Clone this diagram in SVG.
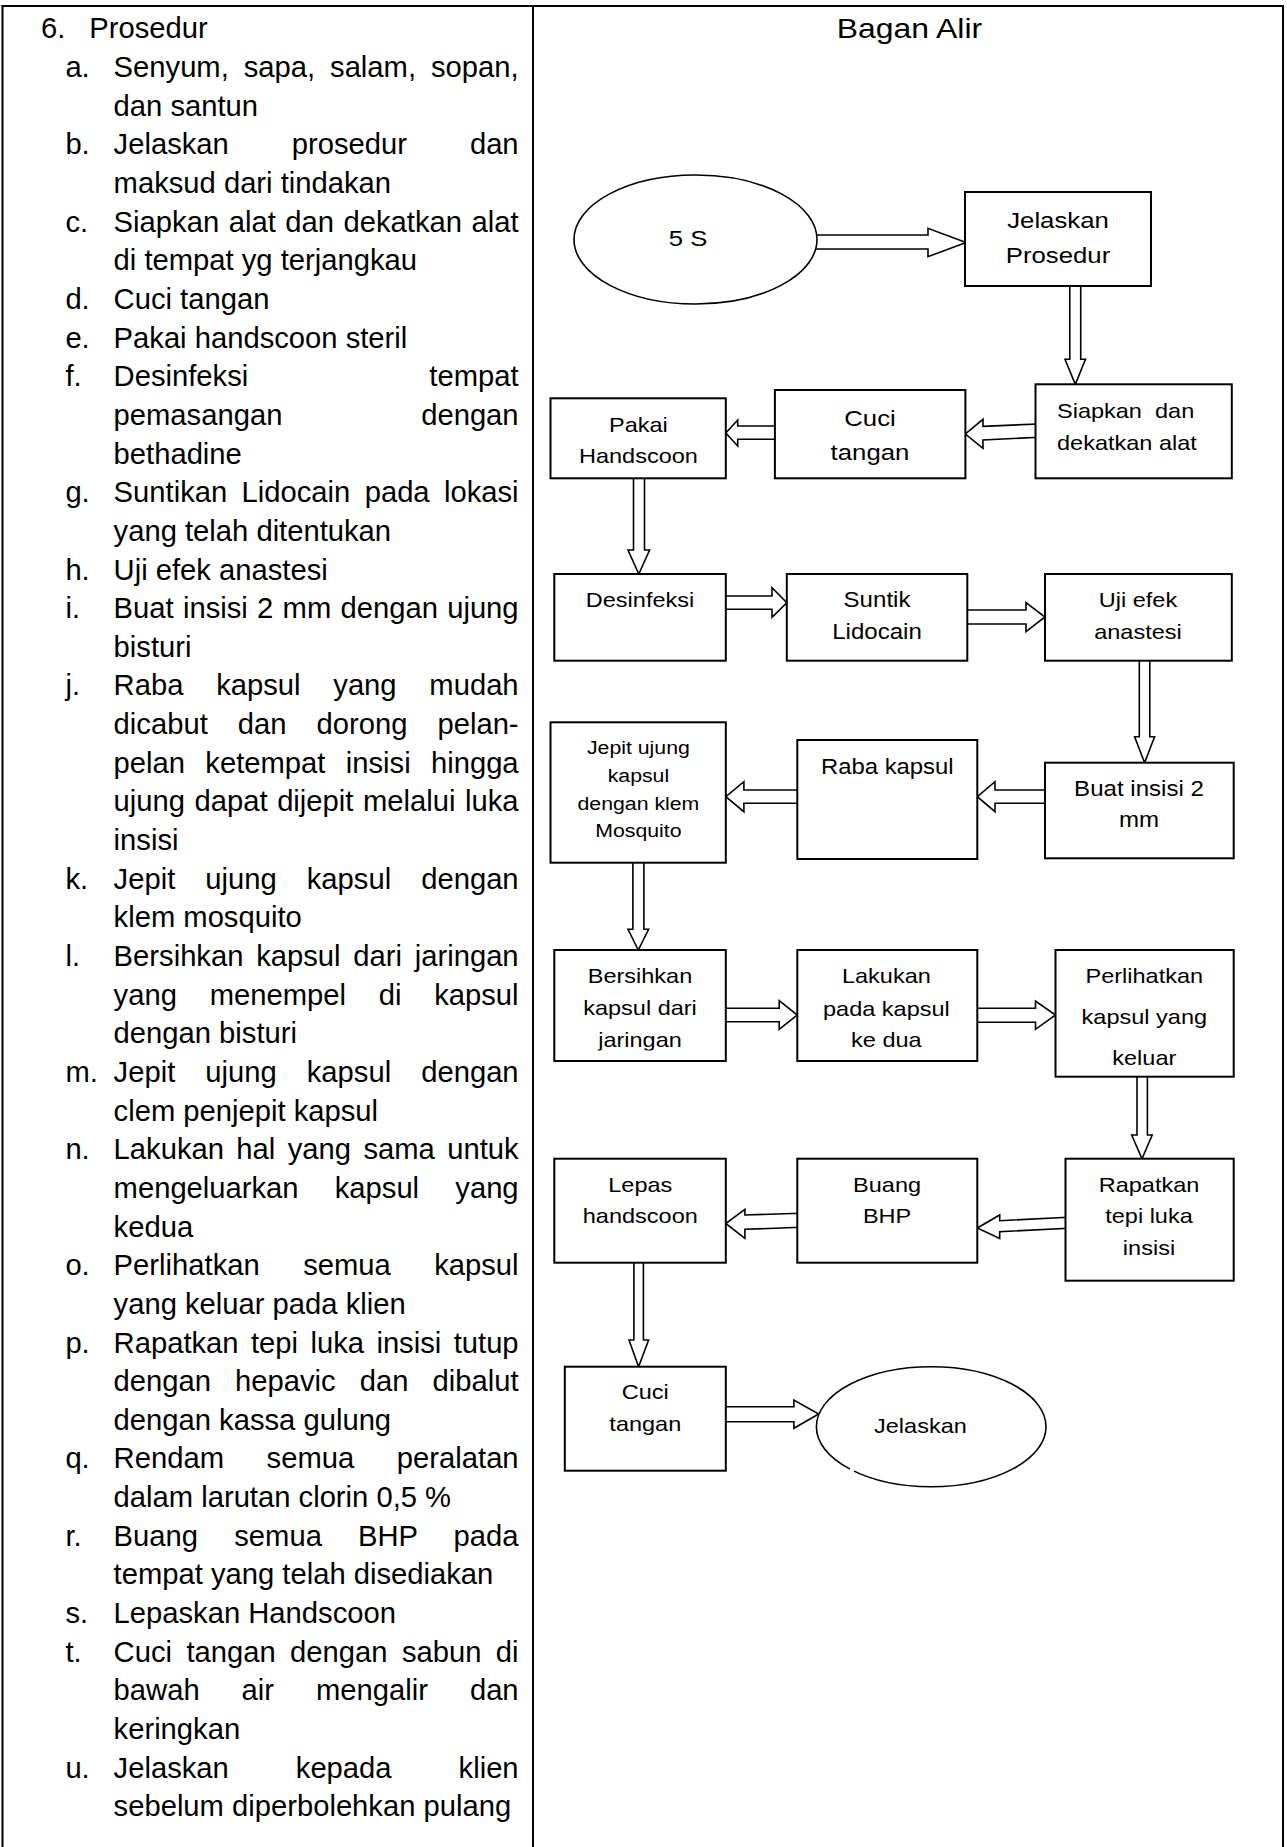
<svg xmlns="http://www.w3.org/2000/svg" width="1287" height="1847" viewBox="0 0 1287 1847">
<style>
.L{font-family:"Liberation Sans",Arial,sans-serif;font-size:29.2px;fill:#000}
.R{font-family:"Liberation Sans",Arial,sans-serif;text-anchor:middle;fill:#000}
.box{fill:#fff;stroke:#000;stroke-width:2}
.ell{fill:#fff;stroke:#000;stroke-width:1.6}
.arr{fill:#fff;stroke:#000;stroke-width:1.6;stroke-linejoin:miter}
.tbl{stroke:#000;stroke-width:2;fill:none}
</style>
<defs>
<clipPath id="clipB"><rect x="554" y="950" width="172" height="100.5"/></clipPath>
</defs>
<rect width="1287" height="1847" fill="#fff"/>
<g id="table">
<line class="tbl" x1="1.5" y1="6" x2="1284" y2="6"/>
<line class="tbl" x1="2.5" y1="5" x2="2.5" y2="1847"/>
<line class="tbl" x1="533" y1="5" x2="533" y2="1847"/>
<line class="tbl" x1="1283" y1="5" x2="1283" y2="1847"/>
</g>
<g id="left-text" class="L">
<text x="41" y="38.4">6.</text><text x="89.3" y="38.4">Prosedur</text>
<text x="65.4" y="77">a.</text><text x="113.6" y="77" word-spacing="6.8" textLength="405" lengthAdjust="spacing">Senyum, sapa, salam, sopan,</text>
<text x="113.6" y="115.7">dan santun</text>
<text x="65.4" y="154.3">b.</text><text x="113.6" y="154.3" word-spacing="54.8" textLength="405" lengthAdjust="spacing">Jelaskan prosedur dan</text>
<text x="113.6" y="193">maksud dari tindakan</text>
<text x="65.4" y="231.6">c.</text><text x="113.6" y="231.6" word-spacing="1.4" textLength="405" lengthAdjust="spacing">Siapkan alat dan dekatkan alat</text>
<text x="113.6" y="270.3">di tempat yg terjangkau</text>
<text x="65.4" y="308.9">d.</text><text x="113.6" y="308.9">Cuci tangan</text>
<text x="65.4" y="347.6">e.</text><text x="113.6" y="347.6">Pakai handscoon steril</text>
<text x="65.4" y="386.2">f.</text><text x="113.6" y="386.2">Desinfeksi</text><text x="518.6" y="386.2" text-anchor="end">tempat</text>
<text x="113.6" y="424.9">pemasangan</text><text x="518.6" y="424.9" text-anchor="end">dengan</text>
<text x="113.6" y="463.5">bethadine</text>
<text x="65.4" y="502.2">g.</text><text x="113.6" y="502.2" word-spacing="6.2" textLength="405" lengthAdjust="spacing">Suntikan Lidocain pada lokasi</text>
<text x="113.6" y="540.8">yang telah ditentukan</text>
<text x="65.4" y="579.5">h.</text><text x="113.6" y="579.5">Uji efek anastesi</text>
<text x="65.4" y="618.1">i.</text><text x="113.6" y="618.1" word-spacing="1.1" textLength="405" lengthAdjust="spacing">Buat insisi 2 mm dengan ujung</text>
<text x="113.6" y="656.8">bisturi</text>
<text x="65.4" y="695.4">j.</text><text x="113.6" y="695.4" word-spacing="24.6" textLength="405" lengthAdjust="spacing">Raba kapsul yang mudah</text>
<text x="113.6" y="734.1" word-spacing="21.9" textLength="405" lengthAdjust="spacing">dicabut dan dorong pelan-</text>
<text x="113.6" y="772.7" word-spacing="12.2" textLength="405" lengthAdjust="spacing">pelan ketempat insisi hingga</text>
<text x="113.6" y="811.4" word-spacing="1.4" textLength="405" lengthAdjust="spacing">ujung dapat dijepit melalui luka</text>
<text x="113.6" y="850">insisi</text>
<text x="65.4" y="888.7">k.</text><text x="113.6" y="888.7" word-spacing="21.9" textLength="405" lengthAdjust="spacing">Jepit ujung kapsul dengan</text>
<text x="113.6" y="927.3">klem mosquito</text>
<text x="65.4" y="966">l.</text><text x="113.6" y="966" word-spacing="4.6" textLength="405" lengthAdjust="spacing">Bersihkan kapsul dari jaringan</text>
<text x="113.6" y="1004.6" word-spacing="24.6" textLength="405" lengthAdjust="spacing">yang menempel di kapsul</text>
<text x="113.6" y="1043.3">dengan bisturi</text>
<text x="65.4" y="1081.9">m.</text><text x="113.6" y="1081.9" word-spacing="21.9" textLength="405" lengthAdjust="spacing">Jepit ujung kapsul dengan</text>
<text x="113.6" y="1120.6">clem penjepit kapsul</text>
<text x="65.4" y="1159.2">n.</text><text x="113.6" y="1159.2" word-spacing="4.3" textLength="405" lengthAdjust="spacing">Lakukan hal yang sama untuk</text>
<text x="113.6" y="1197.9" word-spacing="28.1" textLength="405" lengthAdjust="spacing">mengeluarkan kapsul yang</text>
<text x="113.6" y="1236.5">kedua</text>
<text x="65.4" y="1275.2">o.</text><text x="113.6" y="1275.2" word-spacing="35.3" textLength="405" lengthAdjust="spacing">Perlihatkan semua kapsul</text>
<text x="113.6" y="1313.8">yang keluar pada klien</text>
<text x="65.4" y="1352.5">p.</text><text x="113.6" y="1352.5" word-spacing="4.3" textLength="405" lengthAdjust="spacing">Rapatkan tepi luka insisi tutup</text>
<text x="113.6" y="1391.1" word-spacing="16" textLength="405" lengthAdjust="spacing">dengan hepavic dan dibalut</text>
<text x="113.6" y="1429.8">dengan kassa gulung</text>
<text x="65.4" y="1468.4">q.</text><text x="113.6" y="1468.4" word-spacing="34.5" textLength="405" lengthAdjust="spacing">Rendam semua peralatan</text>
<text x="113.6" y="1507.1">dalam larutan clorin 0,5 %</text>
<text x="65.4" y="1545.7">r.</text><text x="113.6" y="1545.7" word-spacing="27.9" textLength="405" lengthAdjust="spacing">Buang semua BHP pada</text>
<text x="113.6" y="1584.4">tempat yang telah disediakan</text>
<text x="65.4" y="1623">s.</text><text x="113.6" y="1623">Lepaskan Handscoon</text>
<text x="65.4" y="1661.7">t.</text><text x="113.6" y="1661.7" word-spacing="6.3" textLength="405" lengthAdjust="spacing">Cuci tangan dengan sabun di</text>
<text x="113.6" y="1700.3" word-spacing="33.8" textLength="405" lengthAdjust="spacing">bawah air mengalir dan</text>
<text x="113.6" y="1739">keringkan</text>
<text x="65.4" y="1777.6">u.</text><text x="113.6" y="1777.6" word-spacing="58.9" textLength="405" lengthAdjust="spacing">Jelaskan kepada klien</text>
<text x="113.6" y="1816.3">sebelum diperbolehkan pulang</text>
</g>
<text class="R" font-size="28.5" transform="translate(909.4,37.7) scale(1.12,1)">Bagan Alir</text>
<g id="connectors">
<polygon class="arr" points="812,235 928,235 928,228.3 966,242.5 928,256.7 928,249 812,249"/>
<polygon class="arr" points="1069.8,284 1069.8,359.3 1065,359.3 1075.3,384.3 1085.5,359.3 1080.7,359.3 1080.7,284"/>
<polygon class="arr" points="1038,424 983,426.3 983,419.3 965.4,434 983,448.3 983,440 1038,437.3"/>
<polygon class="arr" points="777,426 737.7,426 737.7,420 725.8,433 737.7,446 737.7,439.3 777,439.3"/>
<polygon class="arr" points="633.5,476 633.5,550 628,550 638.8,574 649.6,550 644.5,550 644.5,476"/>
<polygon class="arr" points="723,596 772,596 772,587.7 786.8,602.7 772,617.3 772,609.3 723,609.3"/>
<polygon class="arr" points="965,610 1026,610 1026,602.7 1045,617 1026,631.7 1026,624 965,624"/>
<polygon class="arr" points="1139.3,658 1139.3,736.7 1134.6,736.7 1144.6,762.7 1154.6,736.7 1149.8,736.7 1149.8,658"/>
<polygon class="arr" points="1048,790 995,790 995,781.7 977.3,796.7 995,811.7 995,803.3 1048,803.3"/>
<polygon class="arr" points="800,790 743.9,790 743.9,781.7 725.8,796.7 743.9,811.7 743.9,803.3 800,803.3"/>
<polygon class="arr" points="632.9,860 632.9,929.3 628,929.3 638.3,950 648.6,929.3 643.9,929.3 643.9,860"/>
<polygon class="arr" points="723,1008.3 779.2,1008.3 779.2,1000.7 797.3,1015 779.2,1029.3 779.2,1021.7 723,1021.7"/>
<polygon class="arr" points="975,1008.3 1035.5,1008.3 1035.5,1001 1055.5,1015 1035.5,1029.3 1035.5,1022.3 975,1022.3"/>
<polygon class="arr" points="1137,1074 1137,1135 1131.7,1135 1142,1158.7 1152.2,1135 1147.4,1135 1147.4,1074"/>
<polygon class="arr" points="1068,1217.3 999.7,1220.7 999.7,1215 977.3,1228 999.7,1238.5 999.7,1231.7 1068,1228.3"/>
<polygon class="arr" points="800,1213.3 744.9,1215 744.9,1209.3 725.8,1223.5 744.9,1238.3 744.9,1229.3 800,1227.3"/>
<polygon class="arr" points="633.9,1260 633.9,1340 629,1340 638.6,1366.7 648.6,1340 643.4,1340 643.4,1260"/>
<polygon class="arr" points="723,1406.7 793.9,1406.7 793.9,1400 818.7,1414 793.9,1428.3 793.9,1421.7 723,1421.7"/>
</g>
<g id="n-5s"><ellipse class="ell" cx="695.5" cy="239.5" rx="121.5" ry="64.5"/><text class="R" font-size="23" transform="translate(688,246) scale(1.12,1)">5 S</text></g>
<g id="n-jelaskan-prosedur"><rect class="box" x="965" y="192" width="186" height="94"/><text class="R" font-size="23" transform="translate(1058,228.3) scale(1.12,1)">Jelaskan</text><text class="R" font-size="23" transform="translate(1058,262.7) scale(1.12,1)">Prosedur</text></g>
<g id="n-siapkan"><rect class="box" x="1035.5" y="384.3" width="196.3" height="94"/><text class="R" font-size="21" style="text-anchor:start;white-space:pre" transform="translate(1057,418.3) scale(1.12,1)">Siapkan  dan</text><text class="R" font-size="21" style="text-anchor:start" transform="translate(1057,450) scale(1.12,1)">dekatkan alat</text></g>
<g id="n-cuci1"><rect class="box" x="774.9" y="390" width="190.5" height="88.3"/><text class="R" font-size="23" transform="translate(870,426) scale(1.12,1)">Cuci</text><text class="R" font-size="23" transform="translate(870,460) scale(1.12,1)">tangan</text></g>
<g id="n-pakai"><rect class="box" x="550.5" y="398.3" width="175.3" height="80"/><text class="R" font-size="21" transform="translate(638.4,431.7) scale(1.12,1)">Pakai</text><text class="R" font-size="21" transform="translate(638.4,463.3) scale(1.12,1)">Handscoon</text></g>
<g id="n-desinfeksi"><rect class="box" x="554.3" y="574" width="171.5" height="86.7"/><text class="R" font-size="21" transform="translate(640,606.7) scale(1.12,1)">Desinfeksi</text></g>
<g id="n-suntik"><rect class="box" x="786.8" y="574" width="180.5" height="86.7"/><text class="R" font-size="21.5" transform="translate(877,606.7) scale(1.12,1)">Suntik</text><text class="R" font-size="21.5" transform="translate(877,639.3) scale(1.12,1)">Lidocain</text></g>
<g id="n-uji"><rect class="box" x="1045" y="574" width="186.8" height="86.7"/><text class="R" font-size="21" transform="translate(1138,606.7) scale(1.12,1)">Uji efek</text><text class="R" font-size="21" transform="translate(1138,639.3) scale(1.12,1)">anastesi</text></g>
<g id="n-buat"><rect class="box" x="1045" y="762.7" width="188.7" height="95.6"/><text class="R" font-size="21.5" transform="translate(1139,796) scale(1.12,1)">Buat insisi 2</text><text class="R" font-size="21.5" transform="translate(1139,827.3) scale(1.12,1)">mm</text></g>
<g id="n-raba"><rect class="box" x="797.3" y="740" width="180" height="119"/><text class="R" font-size="21.3" transform="translate(887.3,774) scale(1.12,1)">Raba kapsul</text></g>
<g id="n-jepit"><rect class="box" x="550.5" y="722.3" width="175.3" height="140.4"/><text class="R" font-size="19" transform="translate(638.4,754) scale(1.12,1)">Jepit ujung</text><text class="R" font-size="19" transform="translate(638.4,781.7) scale(1.12,1)">kapsul</text><text class="R" font-size="19" transform="translate(638.4,810) scale(1.12,1)">dengan klem</text><text class="R" font-size="19" transform="translate(638.4,837.3) scale(1.12,1)">Mosquito</text></g>
<g id="n-bersihkan"><rect class="box" x="554.3" y="950" width="171.5" height="111"/><g clip-path="url(#clipB)"><text class="R" font-size="21" transform="translate(640,983.3) scale(1.12,1)">Bersihkan</text><text class="R" font-size="21" transform="translate(640,1015) scale(1.12,1)">kapsul dari</text><text class="R" font-size="21" transform="translate(640,1046.7) scale(1.12,1)">jaringan</text></g></g>
<g id="n-lakukan"><rect class="box" x="797.3" y="950" width="180" height="111"/><text class="R" font-size="21" transform="translate(886.4,983.3) scale(1.12,1)">Lakukan</text><text class="R" font-size="21" transform="translate(886.4,1015.7) scale(1.12,1)">pada kapsul</text><text class="R" font-size="21" transform="translate(886.4,1046.7) scale(1.12,1)">ke dua</text></g>
<g id="n-perlihatkan"><rect class="box" x="1055.5" y="950" width="178.2" height="126.7"/><text class="R" font-size="21" transform="translate(1144.3,983.3) scale(1.12,1)">Perlihatkan</text><text class="R" font-size="21" transform="translate(1144.3,1024) scale(1.12,1)">kapsul yang</text><text class="R" font-size="21" transform="translate(1144.3,1065) scale(1.12,1)">keluar</text></g>
<g id="n-rapatkan"><rect class="box" x="1065.5" y="1158.7" width="168.2" height="122"/><text class="R" font-size="21" transform="translate(1149,1191.7) scale(1.12,1)">Rapatkan</text><text class="R" font-size="21" transform="translate(1149,1222.7) scale(1.12,1)">tepi luka</text><text class="R" font-size="21" transform="translate(1149,1255) scale(1.12,1)">insisi</text></g>
<g id="n-buang"><rect class="box" x="797.3" y="1158.7" width="180" height="104"/><text class="R" font-size="21" transform="translate(887.1,1191.7) scale(1.12,1)">Buang</text><text class="R" font-size="21" transform="translate(887.1,1222.7) scale(1.12,1)">BHP</text></g>
<g id="n-lepas"><rect class="box" x="554.3" y="1158.7" width="171.5" height="104"/><text class="R" font-size="21" transform="translate(640.3,1191.7) scale(1.12,1)">Lepas</text><text class="R" font-size="21" transform="translate(640.3,1222.7) scale(1.12,1)">handscoon</text></g>
<g id="n-cuci2"><rect class="box" x="564.8" y="1366.7" width="161" height="104"/><text class="R" font-size="21" transform="translate(645.3,1399.3) scale(1.12,1)">Cuci</text><text class="R" font-size="21" transform="translate(645.3,1430.7) scale(1.12,1)">tangan</text></g>
<g id="n-jelaskan-end"><ellipse class="ell" cx="931.2" cy="1426.7" rx="114.8" ry="60"/><circle cx="852" cy="1470" r="2.4" fill="#fff"/><text class="R" font-size="21" transform="translate(920.4,1433.3) scale(1.12,1)">Jelaskan</text></g>
</svg>
